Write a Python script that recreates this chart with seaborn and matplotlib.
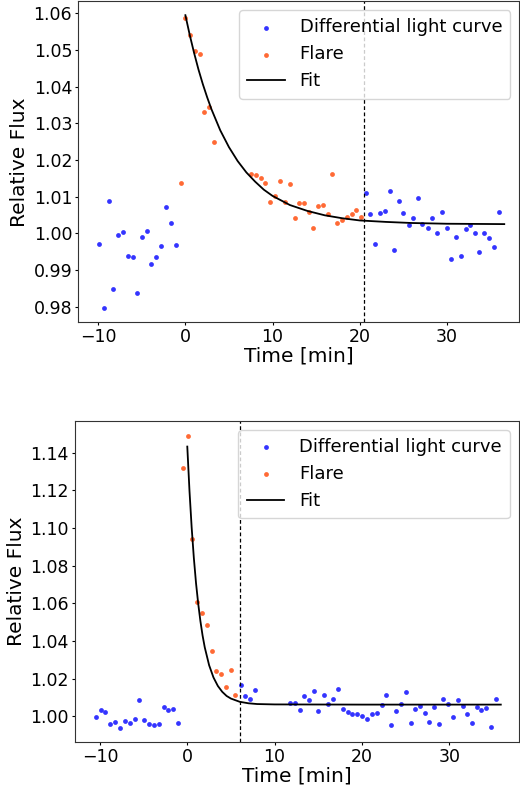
import numpy as np
import matplotlib
matplotlib.use("Agg")
import matplotlib.pyplot as plt
import seaborn as sns

# ---- panel 1 (upper flare) ----
t1_diff = [-9.86, -9.33, -8.75, -8.26, -7.68, -7.11, -6.57, -6.04, -5.5, -4.97, -4.43, -3.9,
           -3.37, -2.83, -2.22, -1.64, -1.07,
           20.68, 21.22, 21.75, 22.32, 22.9, 23.43, 23.97, 24.54, 25.03, 25.61, 26.15, 26.68,
           27.21, 27.83, 28.36, 28.93, 29.47, 30.0, 30.54, 31.08, 31.61, 32.19, 32.72, 33.26,
           33.75, 34.29, 34.83, 35.44, 36.01]
f1_diff = [0.997, 0.9796, 1.0088, 0.9847, 0.9994, 1.0003, 0.9938, 0.9935, 0.9837, 0.999, 1.0007,
           0.9915, 0.9935, 0.9964, 1.0073, 1.0028, 0.9969,
           1.011, 1.0052, 0.9971, 1.0055, 1.0061, 1.0116, 0.9955, 1.0089, 1.0055, 1.0022, 1.0041,
           1.0096, 1.0025, 1.0015, 1.0043, 1.0, 1.0059, 1.0014, 0.9931, 0.9989, 0.9939, 1.0012,
           1.0022, 1.0002, 0.9949, 1.0002, 0.9988, 0.9963, 1.0057]
t1_flare = [-0.53, 0.0, 0.54, 1.15, 1.68, 2.18, 2.75, 3.29,
            7.53, 8.07, 8.64, 9.17, 9.71, 10.32, 10.86, 11.43, 11.96, 12.53, 13.07, 13.61,
            14.14, 14.68, 15.22, 15.75, 16.32, 16.86, 17.43, 18.0, 18.54, 19.07, 19.61, 20.15]
f1_flare = [1.0136, 1.0587, 1.054, 1.0498, 1.049, 1.033, 1.0345, 1.0248,
            1.0162, 1.0158, 1.0151, 1.0136, 1.0085, 1.0103, 1.0143, 1.0086, 1.0135, 1.0041,
            1.0083, 1.0082, 1.0058, 1.0014, 1.0074, 1.0077, 1.0053, 1.0162, 1.0028, 1.0037,
            1.0044, 1.0053, 1.0063, 1.0044]
t1_fit = [0, 0.5, 1, 1.5, 2, 2.5, 3, 4, 5, 6, 7, 8, 9, 10, 12, 14, 16, 18, 20, 23, 26, 30, 36.6]
f1_fit = [1.0595, 1.0541, 1.0492, 1.0447, 1.0407, 1.0371, 1.0338, 1.0281, 1.0235, 1.0197,
          1.0166, 1.0141, 1.0119, 1.0102, 1.0077, 1.0061, 1.0049, 1.0041, 1.0035, 1.0031,
          1.0028, 1.0026, 1.0025]
t1_cut = 20.5

# ---- panel 2 (lower flare) ----
t2_diff = [-10.47, -9.93, -9.39, -8.87, -8.29, -7.72, -7.18, -6.61, -6.04, -5.5, -4.93, -4.4,
           -3.83, -3.29, -2.71, -2.18, -1.65, -1.03,
           6.1, 6.64, 7.17, 7.71,
           11.75, 12.29, 12.86, 13.4, 13.93, 14.47, 15.0, 15.61, 16.15, 16.68, 17.25, 17.82,
           18.36, 18.9, 19.43, 20.0, 20.54, 21.11, 21.68, 22.26, 22.79, 23.37, 23.9, 24.43,
           25.01, 25.58, 26.12, 26.64, 27.18, 27.72, 28.25, 28.79, 29.32, 29.85, 30.42, 30.96,
           31.53, 32.07, 32.6, 33.14, 33.68, 34.2, 34.78, 35.32]
f2_diff = [0.9998, 1.0032, 1.0024, 0.9959, 0.9971, 0.9938, 0.9977, 0.9966, 0.9986, 1.0087,
           0.998, 0.9957, 0.9955, 0.9959, 1.0049, 1.0032, 1.0039, 0.9966,
           1.0168, 1.0106, 1.009, 1.0138,
           1.0069, 1.0069, 1.0032, 1.0106, 1.0085, 1.0133, 1.003, 1.0115, 1.0067, 1.0093,
           1.0145, 1.0039, 1.0023, 1.0011, 1.0012, 1.0, 0.9984, 1.0011, 1.0018, 1.0062, 1.0112,
           0.9955, 1.003, 1.0064, 1.0129, 0.9966, 1.0037, 1.0055, 1.0018, 0.9968, 1.0051,
           0.9959, 1.0093, 1.0064, 0.9998, 1.0085, 1.0053, 1.0014, 0.9966, 1.0049, 1.0035,
           1.0042, 0.9945, 1.0092]
t2_flare = [-0.46, 0.03, 0.57, 1.15, 1.67, 2.21, 2.78, 3.32, 3.89, 4.42, 4.96, 5.5]
f2_flare = [1.132, 1.149, 1.0942, 1.0609, 1.0549, 1.0483, 1.0348, 1.0242, 1.0223, 1.0154,
            1.0247, 1.0115]
t2_fit = [0.0, 0.25, 0.5, 0.75, 1.0, 1.25, 1.5, 1.75, 2.0, 2.5, 3.0, 3.5, 4.0, 4.5, 5.0, 6.0,
          7.0, 8.0, 10.0, 20.0, 35.9]
f2_fit = [1.1432, 1.1198, 1.1003, 1.0841, 1.0707, 1.0598, 1.0506, 1.0429, 1.0366, 1.0271,
          1.0206, 1.0161, 1.0130, 1.0108, 1.0094, 1.0077, 1.0069, 1.0065, 1.0063, 1.0062,
          1.0062]
t2_cut = 6.0

blue = "#3434ff"
orange = "#ff6a35"

plt.rcParams["font.family"] = ["DejaVu Sans"]
fig = plt.figure(figsize=(5.2, 7.91), dpi=100)
ax1 = fig.add_axes([0.1506, 0.5925, 0.8481, 0.4059])
ax2 = fig.add_axes([0.1442, 0.0616, 0.8533, 0.4062])


def draw(ax, td, fd, tf, ff, tfit, ffit, tcut, xlim, ylim, yticks):
    sns.scatterplot(x=td, y=fd, ax=ax, color=blue, s=12, linewidth=0,
                    label="Differential light curve")
    sns.scatterplot(x=tf, y=ff, ax=ax, color=orange, s=12, linewidth=0, label="Flare")
    sns.lineplot(x=tfit, y=ffit, ax=ax, color="k", lw=1.3, sort=False, label="Fit")
    ax.axvline(tcut, color="k", ls="--", lw=0.9, dashes=(3, 2))
    ax.set_xlim(*xlim)
    ax.set_ylim(*ylim)
    ax.set_xticks([-10, 0, 10, 20, 30])
    ax.set_yticks(yticks)
    ax.set_xlabel("Time [min]", fontsize=14.5, labelpad=0)
    ax.set_ylabel("Relative Flux", fontsize=14.5, labelpad=3)
    ax.tick_params(labelsize=12.5, length=2.2, pad=2.2)
    for sp in ax.spines.values():
        sp.set_color("#333333")
    ax.legend(loc="upper right", fontsize=13, handlelength=2.1, borderpad=0.45)


draw(ax1, t1_diff, f1_diff, t1_flare, f1_flare, t1_fit, f1_fit, t1_cut,
     (-12.29, 38.33), (0.9757, 1.0633), [0.98, 0.99, 1.00, 1.01, 1.02, 1.03, 1.04, 1.05, 1.06])
draw(ax2, t2_diff, f2_diff, t2_flare, f2_flare, t2_fit, f2_fit, t2_cut,
     (-12.86, 37.95), (0.9862, 1.1568), [1.00, 1.02, 1.04, 1.06, 1.08, 1.10, 1.12, 1.14])

fig.savefig("out.png", dpi=100)
